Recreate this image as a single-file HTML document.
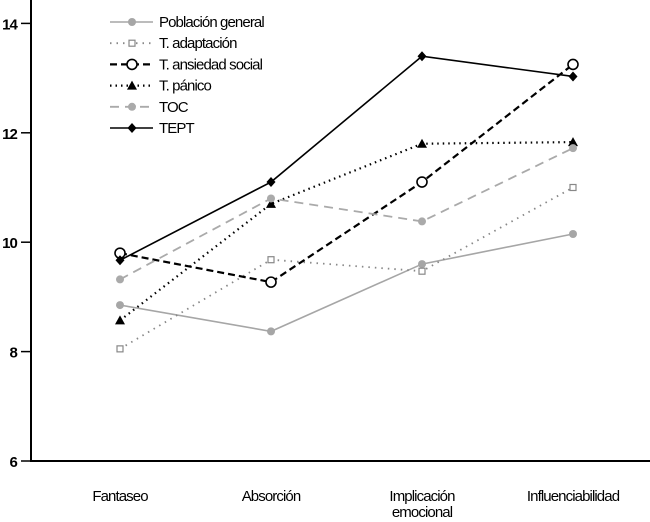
<!DOCTYPE html>
<html><head><meta charset="utf-8"><style>
body{margin:0;background:#fff;}
svg text{font-family:"Liberation Sans",sans-serif;font-size:15px;fill:#000;letter-spacing:-0.9px;}
</style></head><body>
<svg id="chart" width="650" height="517"></svg>
<script>
const categories = [["Fantaseo"],["Absorción"],["Implicación","emocional"],["Influenciabilidad"]];
const yTicks = [6,8,10,12,14];
const seriesNames = ["Población general","T. adaptación","T. ansiedad social","T. pánico","TOC","TEPT"];
const poblacionGeneral = [8.85,8.37,9.6,10.15];
const tAdaptacion = [8.05,9.68,9.47,11.0];
const tAnsiedadSocial = [9.8,9.27,11.1,13.25];
const tPanico = [8.57,10.7,11.8,11.83];
const toc = [9.32,10.8,10.38,11.72];
const tept = [9.67,11.1,13.4,13.03];

const NS="http://www.w3.org/2000/svg";
const svg=document.getElementById('chart');
function el(t,a,p){const e=document.createElementNS(NS,t);for(const k in a)e.setAttribute(k,a[k]);(p||svg).appendChild(e);return e;}
const yS=v=>461-(v-6)*54.7;
const xS=i=>120+i*151;

const styles=[
 {c:"#a6a6a6",d:"",m:"dot",fill:"#a6a6a6",w:1.6},
 {c:"#888",d:"1.5 5",m:"square",fill:"#fff",w:1.8},
 {c:"#000",d:"7 4",m:"circle",fill:"#fff",w:2.2},
 {c:"#000",d:"1.5 4",m:"tri",fill:"#000",w:2.2},
 {c:"#aaa",d:"9 6",m:"dot",fill:"#aaa",w:1.8},
 {c:"#000",d:"",m:"diamond",fill:"#000",w:1.6}];
const data=[poblacionGeneral,tAdaptacion,tAnsiedadSocial,tPanico,toc,tept];

function marker(g,type,x,y,s){
 let e;
 if(type==="dot"){e=el('circle',{cx:x,cy:y,r:4,fill:s.fill},g);}
 else if(type==="square"){e=el('rect',{x:x-3,y:y-3,width:6,height:6,fill:"#fff",stroke:s.c,'stroke-width':1.2},g);}
 else if(type==="circle"){e=el('circle',{cx:x,cy:y,r:5,fill:"#fff",stroke:"#000",'stroke-width':1.6},g);}
 else if(type==="tri"){e=el('polygon',{points:`${x},${y-5} ${x+5},${y+4} ${x-5},${y+4}`,fill:"#000"},g);}
 else {e=el('polygon',{points:`${x},${y-5} ${x+4.5},${y} ${x},${y+5} ${x-4.5},${y}`,fill:"#000"},g);}
 
 
}

const ax=el('g',{});


el('line',{x1:31,y1:0,x2:31,y2:462,stroke:"#000",'stroke-width':2},ax);
el('line',{x1:30,y1:461,x2:650,y2:461,stroke:"#000",'stroke-width':2},ax);
yTicks.forEach(v=>{
 el('line',{x1:21,y1:yS(v),x2:31,y2:yS(v),stroke:"#000",'stroke-width':1.5},ax);
 const t=el('text',{x:17,y:yS(v)+6,'text-anchor':'end','font-size':'17','font-weight':'bold'},ax);t.textContent=v;
 
 
});
categories.forEach((c,i)=>{
 c.forEach((line,j)=>{
  const t=el('text',{x:xS(i),y:501+j*16,'text-anchor':'middle'},ax);t.textContent=line;
  
  
 });
});

data.forEach((arr,si)=>{
 const s=styles[si];
 const g=el('g',{});
 
 
 el('polyline',{points:arr.map((v,i)=>xS(i)+","+yS(v)).join(" "),fill:"none",stroke:s.c,'stroke-width':s.w,'stroke-dasharray':s.d},g);
 arr.forEach((v,i)=>marker(g,s.m,xS(i),yS(v),s));
});

const lg=el('g',{});


seriesNames.forEach((n,i)=>{
 const s=styles[i];const y=22+i*21.2;
 const g=el('g',{},lg);
 
 
 el('line',{x1:110,y1:y,x2:153,y2:y,stroke:s.c,'stroke-width':s.w,'stroke-dasharray':s.d},g);
 marker(g,s.m,132,y,s);
 const t=el('text',{x:159,y:y+5},g);t.textContent=n;
});
</script>
</body></html>
